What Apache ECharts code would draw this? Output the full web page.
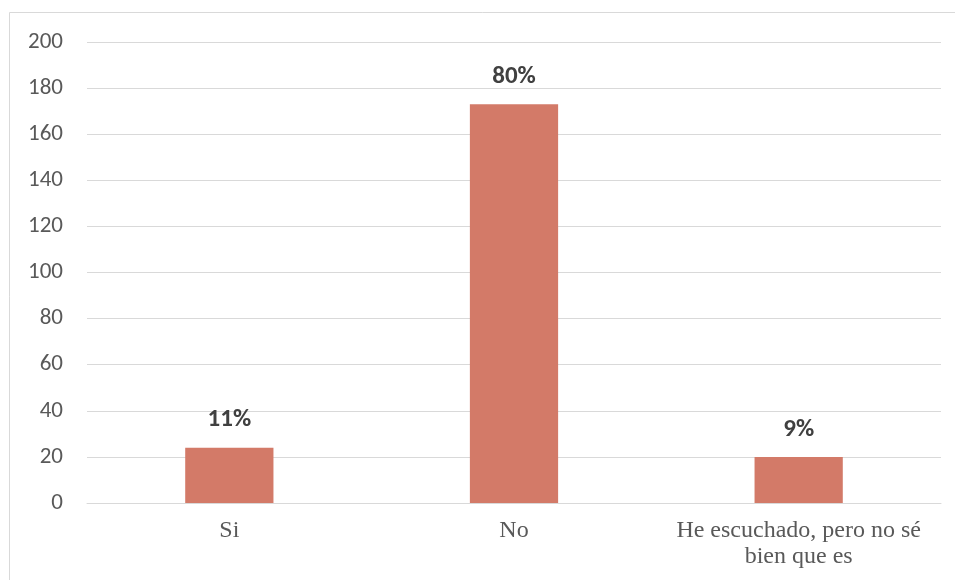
<!DOCTYPE html>
<html>
<head>
<meta charset="utf-8">
<script src="https://cdn.jsdelivr.net/npm/echarts@6/dist/echarts.min.js"></script>
<style>html,body{margin:0;padding:0;background:#fff;}#c{width:955px;height:580px;}</style>
</head>
<body>
<div id="c"></div>
<script>
var categories = ['Si', 'No', 'He escuchado, pero no sé\nbien que es'];
var values = [24, 173, 20];
var percentLabels = ['11%', '80%', '9%'];
var yTicks = [0, 20, 40, 60, 80, 100, 120, 140, 160, 180, 200];

var chart = echarts.init(document.getElementById('c'));
chart.setOption({
  animation: false,
  backgroundColor: '#ffffff',
  graphic: [{
    type: 'rect',
    shape: {x: 9.5, y: 12.5, width: 960, height: 600},
    style: {fill: 'none', stroke: '#d9d9d9', lineWidth: 1}
  }],
  grid: {left: 87, right: 14, top: 42, bottom: 77, containLabel: false},
  xAxis: {
    type: 'category',
    data: categories,
    axisLine: {show: true, lineStyle: {color: '#d9d9d9', width: 1}},
    axisTick: {show: false},
    axisLabel: {
      fontFamily: '"Liberation Serif", "Times New Roman", serif',
      fontSize: 24,
      color: '#595959',
      lineHeight: 26,
      margin: 15,
      interval: 0
    }
  },
  yAxis: {
    type: 'value',
    min: yTicks[0],
    max: yTicks[yTicks.length - 1],
    interval: 20,
    axisLine: {show: false},
    axisTick: {show: false},
    splitLine: {lineStyle: {color: '#d9d9d9', width: 1}},
    axisLabel: {
      fontFamily: '"Carlito", "Open Sans", "Noto Sans", sans-serif',
      fontSize: 23,
      color: '#595959',
      margin: 24
    }
  },
  series: [{
    type: 'bar',
    data: values,
    barWidth: '31%',
    itemStyle: {color: '#d37a68'},
    label: {
      show: true,
      position: 'top',
      distance: 15,
      formatter: function (p) { return percentLabels[p.dataIndex]; },
      fontFamily: '"Carlito", "Open Sans", "Noto Sans", sans-serif',
      fontWeight: 'bold',
      fontSize: 25,
      color: '#404040'
    }
  }]
});
</script>
</body>
</html>
